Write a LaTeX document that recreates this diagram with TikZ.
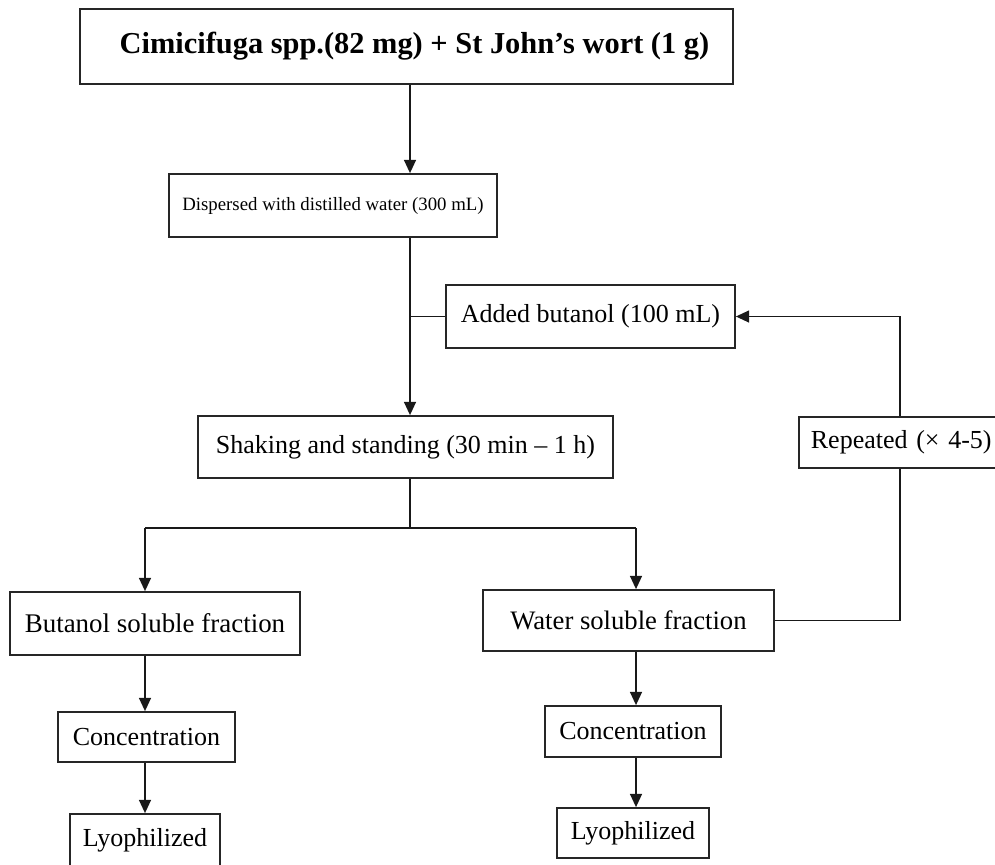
\documentclass[tikz,border=0pt]{standalone}
\usepackage{fontspec}
\setmainfont{Liberation Serif}
\usetikzlibrary{arrows.meta}
\begin{document}
\begin{tikzpicture}[x=0.75pt,y=-0.75pt,
  box/.style={draw=black!85,line width=1.3pt,rectangle,inner sep=0pt,font=\fontsize{19.5}{23}\selectfont},
  link/.style={draw=black!90,line width=1.2pt},
  arr/.style={link,-{Triangle[length=10pt,width=9pt]}}]
\useasboundingbox (0,0) rectangle (995,864);
\clip (0,0) rectangle (995,864);
% boxes (centre, width, height in pixel units)
\node[box,minimum width=489.75pt,minimum height=56.25pt,font=\bfseries\fontsize{22.8}{26}\selectfont]
  (top) at (406.5,46.5) {\hspace{12pt}Cimicifuga spp.(82 mg) + St John’s wort (1 g)};
\node[box,minimum width=246pt,minimum height=47.25pt,font=\fontsize{14.1}{17}\selectfont] (disp) at (333,205.5)
  {Dispersed with distilled water (300 mL)};
\node[box,minimum width=216.75pt,minimum height=47.25pt] (added) at (590.5,316.5)
  {Added butanol (100 mL)};
\node[box,minimum width=311.25pt,minimum height=46.5pt] (shake) at (405.5,447)
  {Shaking and standing (30 min – 1 h)};
\node[box,anchor=west,inner xsep=9pt,minimum height=38.25pt,align=left,text width=150pt] (rep) at (798,442.5)
  {Repeated (× 4-5)};
\node[box,minimum width=217.5pt,minimum height=47.25pt,font=\fontsize{20.2}{24}\selectfont] (buta) at (155,623.5)
  {Butanol soluble fraction};
\node[box,minimum width=218.25pt,minimum height=45.75pt,font=\fontsize{20}{24}\selectfont] (water) at (628.5,620.5)
  {Water soluble fraction};
\node[box,minimum width=132.75pt,minimum height=37.5pt] (conA) at (146.5,737)
  {Concentration};
\node[box,minimum width=112.5pt,minimum height=39pt] (lyoA) at (145,840)
  {Lyophilized};
\node[box,minimum width=132pt,minimum height=38.25pt] (conB) at (633,731.5)
  {Concentration};
\node[box,minimum width=114pt,minimum height=37.5pt] (lyoB) at (633,833)
  {Lyophilized};
% guide columns
\coordinate (spine) at (410,0);
\coordinate (colA) at (145,0);
\coordinate (colB) at (636,0);
\coordinate (colR) at (900,0);
\coordinate (split) at (410,528);
% main column
\draw[arr] (top.south -| spine) -- (disp.north -| spine);
\draw[arr] (disp.south -| spine) -- (shake.north -| spine);
\draw[link] (added.west) -- (added.west -| spine);
\draw[link] (shake.south -| spine) -- (split);
\draw[link] (split -| colA) -- (split -| colB);
\draw[arr] (split -| colA) -- (buta.north -| colA);
\draw[arr] (split -| colB) -- (water.north -| colB);
% butanol branch
\draw[arr] (buta.south -| colA) -- (conA.north -| colA);
\draw[arr] (conA.south -| colA) -- (lyoA.north -| colA);
% water branch
\draw[arr] (water.south -| colB) -- (conB.north -| colB);
\draw[arr] (conB.south -| colB) -- (lyoB.north -| colB);
% repeat loop
\draw[link] (water.east) -- (water.east -| colR) -- (rep.south -| colR);
\draw[arr] (rep.north -| colR) -- (added.east -| colR) -- (added.east);
\end{tikzpicture}
\end{document}
